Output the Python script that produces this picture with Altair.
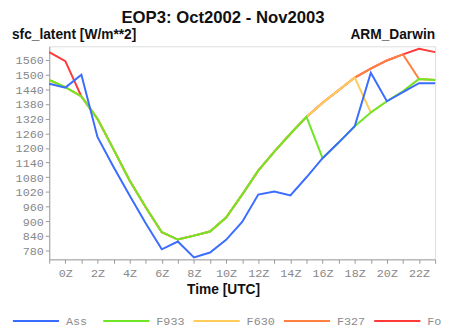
import altair as alt
import pandas as pd

hours = list(range(-1, 24))
series_names = ["Ass", "F933", "F630", "F327", "For"]
series_colors = ["#3a6dff", "#6ee626", "#ffcc5c", "#ff8040", "#ff3838"]

ass = [1463, 1447, 1500, 1245, 1122, 1005, 892, 785, 817, 752, 772, 824, 897,
       1009, 1022, 1006, 1080, 1158, 1222, 1289, 1508, 1391, 1428, 1465, 1465]
f933 = [1478, 1449, 1411, 1319, 1194, 1067, 957, 855, 825, 841, 858, 915, 1009,
        1107, 1185, 1258, 1327, 1158, 1222, 1289, 1345, 1391, 1432, 1482, 1478]
f630 = [1478, 1449, 1411, 1319, 1194, 1067, 957, 855, 825, 841, 858, 915, 1009,
        1107, 1185, 1258, 1327, 1385, 1436, 1488, 1345, 1391, 1432, 1482, 1478]
f327 = [1478, 1449, 1411, 1319, 1194, 1067, 957, 855, 825, 841, 858, 915, 1009,
        1107, 1185, 1258, 1327, 1385, 1436, 1488, 1525, 1558, 1583, 1482, 1478]
fcst = [1592, 1555, 1411, 1319, 1194, 1067, 957, 855, 825, 841, 858, 915, 1009,
        1107, 1185, 1258, 1327, 1385, 1436, 1488, 1525, 1558, 1583, 1606, 1592]

y_ticks = list(range(780, 1561, 60))

rows = []
for name, vals in zip(series_names, [ass, f933, f630, f327, fcst]):
    for h, v in zip(hours, vals):
        rows.append({"hour": h, "value": v, "series": name})
df = pd.DataFrame(rows)

mono = "Liberation Mono"
sans = "Liberation Sans"

color = alt.Color(
    "series:N",
    scale=alt.Scale(domain=series_names, range=series_colors),
    legend=alt.Legend(
        title=None, orient="none", legendX=-38, legendY=255,
        direction="horizontal", columns=5, gridAlign="all",
        symbolType="stroke", symbolSize=2209, symbolStrokeWidth=2,
        labelFont=mono, labelFontSize=12, labelColor="#8c8c8c",
        labelOffset=6, columnPadding=5, padding=0,
    ),
)

x_enc = alt.X(
    "hour:Q",
    scale=alt.Scale(domain=[-1, 23], nice=False, zero=False),
    axis=alt.Axis(
        values=hours,
        labelExpr="datum.value >= 0 && datum.value % 2 == 0 ? datum.value + 'Z' : ''",
        title="Time [UTC]", titleFont=sans, titleFontSize=14, titleFontWeight="bold",
        titleColor="#111111", titleX=177, titleY=35, titleBaseline="alphabetic",
        titleAlign="center",
        labelFont=mono, labelFontSize=12, labelColor="#888888", labelPadding=4,
        tickSize=4, tickColor="#999999", domainColor="#a0a0a0", grid=False,
        labelFlush=False,
    ),
)
y_enc = alt.Y(
    "value:Q",
    scale=alt.Scale(domain=[744, 1616], nice=False, zero=False),
    axis=alt.Axis(
        values=y_ticks, title=None, format="d",
        labelFont=mono, labelFontSize=12, labelColor="#888888", labelPadding=2,
        tickSize=4, tickColor="#999999", domainColor="#a0a0a0", grid=False,
    ),
)

layers = []
for name in reversed(series_names):
    layers.append(
        alt.Chart(df)
        .transform_filter(alt.datum.series == name)
        .mark_line(strokeWidth=2)
        .encode(x=x_enc, y=y_enc, color=color)
    )

texts = pd.DataFrame({
    "label": ["EOP3: Oct2002 - Nov2003", "sfc_latent [W/m**2]", "ARM_Darwin"],
})
title_t = alt.Chart(texts).transform_filter(alt.datum.label == texts["label"][0]).mark_text(
    font=sans, fontSize=17, fontWeight="bold", align="center", baseline="alphabetic", color="#111111"
).encode(text="label:N", x=alt.value(177), y=alt.value(-24))
left_t = alt.Chart(texts).transform_filter(alt.datum.label == texts["label"][1]).mark_text(
    font=sans, fontSize=14, fontWeight="bold", align="left", baseline="alphabetic", color="#111111"
).encode(text="label:N", x=alt.value(-38), y=alt.value(-7))
right_t = alt.Chart(texts).transform_filter(alt.datum.label == texts["label"][2]).mark_text(
    font=sans, fontSize=14, fontWeight="bold", align="right", baseline="alphabetic", color="#111111"
).encode(text="label:N", x=alt.value(393), y=alt.value(-7))

chart = (
    alt.layer(*layers, title_t, left_t, right_t)
    .properties(width=393, height=217, autosize=alt.AutoSizeParams(type="none"),
                padding={"left": 42, "top": 36, "right": 6, "bottom": 72})
    .configure_view(stroke="#a0a0a0", strokeWidth=1.5)
    .configure(background="white")
)

chart.save("out.html", embed_options={"renderer": "svg", "actions": False})
